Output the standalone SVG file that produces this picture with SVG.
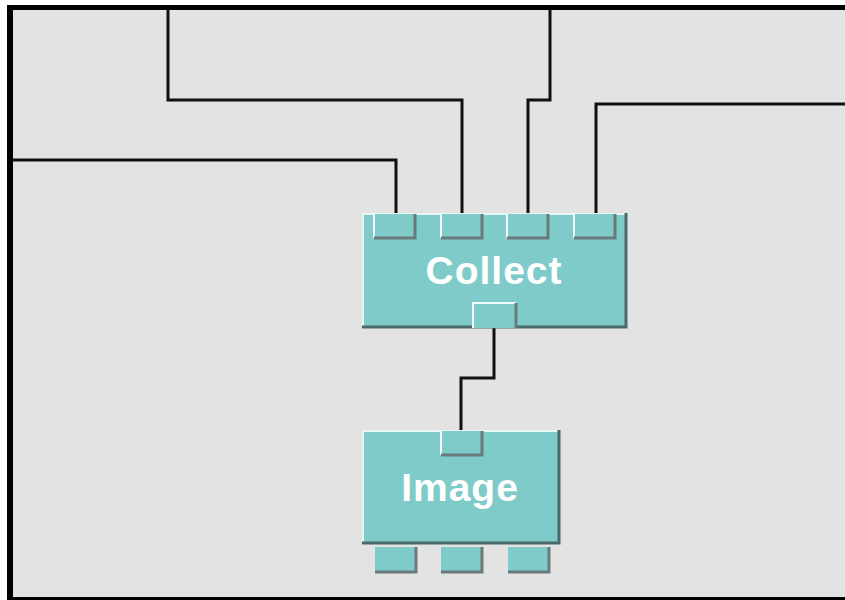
<svg xmlns="http://www.w3.org/2000/svg" width="845" height="600" viewBox="0 0 845 600">
<style>
.node{fill:#7fcbca}
.hi{stroke:#e6f6f6;stroke-width:2;fill:none}
.sh{stroke:#4a6a6a;stroke-width:3;fill:none}
.port{fill:#7fcbca}
.phi{stroke:#f2fbfb;stroke-width:2;fill:none}
.psh{stroke:#6a7a7a;stroke-width:3;fill:none}
.lbl{font-family:"Liberation Sans",Arial,sans-serif;font-weight:bold;font-size:39px;letter-spacing:1px;fill:#ffffff;text-anchor:middle}
.wire{stroke:#111;stroke-width:3;fill:none}
</style>
<rect x="0" y="0" width="845" height="600" fill="#ffffff"/>
<rect x="7" y="5" width="838" height="595" fill="#000"/>
<rect x="13" y="10" width="832" height="587" fill="#e3e3e3"/>
<g id="connectors">
<polyline class="wire" points="396,213 396,160 13,160"/>
<polyline class="wire" points="462,213 462,100 168,100 168,10"/>
<polyline class="wire" points="528,213 528,100 550,100 550,10"/>
<polyline class="wire" points="596,213 596,104 845,104"/>
<polyline class="wire" points="494,328 494,378 461,378 461,430"/>
</g>
<g id="collect">
<rect class="node" x="362" y="213" width="265" height="115"/>
<polyline class="hi" points="363,328 363,214 626,214"/>
<polyline class="sh" points="362,327 626,327 626,213"/>
<g>
<rect class="port" x="373" y="214" width="43" height="25"/>
<polyline class="phi" points="374,214 374,238"/>
<polyline class="psh" points="374,238 415,238 415,214"/>
</g>
<g>
<rect class="port" x="440" y="214" width="43" height="25"/>
<polyline class="phi" points="441,214 441,238"/>
<polyline class="psh" points="441,238 482,238 482,214"/>
</g>
<g>
<rect class="port" x="506" y="214" width="43" height="25"/>
<polyline class="phi" points="507,214 507,238"/>
<polyline class="psh" points="507,238 548,238 548,214"/>
</g>
<g>
<rect class="port" x="573" y="214" width="43" height="25"/>
<polyline class="phi" points="574,214 574,238"/>
<polyline class="psh" points="574,238 615,238 615,214"/>
</g>
<g>
<rect class="port" x="472" y="302" width="45" height="26"/>
<polyline class="phi" points="473,328 473,303 516,303"/>
<polyline class="psh" points="516,303 516,328"/>
</g>
<text class="lbl" x="494" y="284">Collect</text>
</g>
<g id="image">
<rect class="node" x="362" y="430" width="198" height="114"/>
<polyline class="hi" points="363,543 363,431 559,431"/>
<polyline class="sh" points="362,543 559,543 559,430"/>
<g>
<rect class="port" x="440" y="431" width="43" height="25"/>
<polyline class="phi" points="441,431 441,455"/>
<polyline class="psh" points="441,455 482,455 482,431"/>
</g>
<text class="lbl" x="460" y="501">Image</text>
<g>
<rect class="port" x="375" y="547" width="42" height="26"/>
<polyline class="psh" points="375,572 416,572 416,547"/>
</g>
<g>
<rect class="port" x="441" y="547" width="42" height="26"/>
<polyline class="psh" points="441,572 482,572 482,547"/>
</g>
<g>
<rect class="port" x="508" y="547" width="42" height="26"/>
<polyline class="psh" points="508,572 549,572 549,547"/>
</g>
</g>
</svg>
